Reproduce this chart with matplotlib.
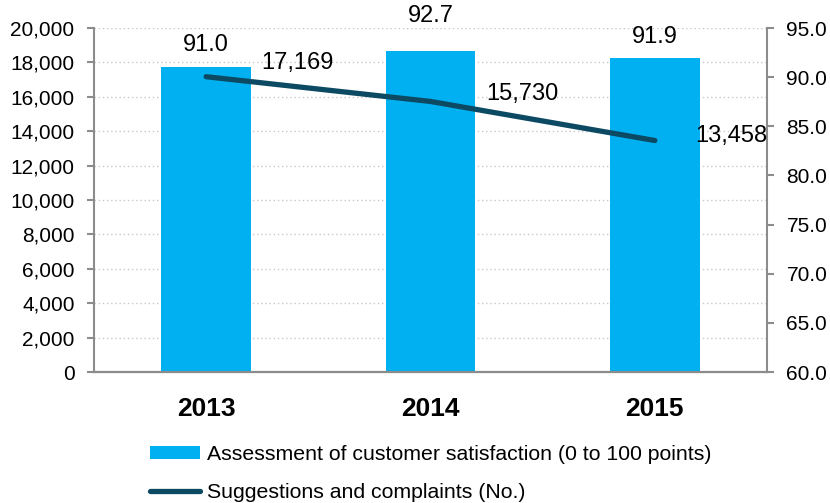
import numpy as np
import matplotlib.pyplot as plt
from matplotlib.ticker import FuncFormatter

plt.rcParams['font.family'] = ['Liberation Sans', 'DejaVu Sans']

# chart data
years = ['2013', '2014', '2015']
satisfaction = [91.0, 92.7, 91.9]          # right axis, bars
complaints = [17169, 15730, 13458]         # left axis, line

bar_color = '#00b0f0'
line_color = '#0c4a63'
spine_color = '#8c8c8c'

# label placement, in pixels from the mark
bar_label_offsets = [(0, 22), (0, 35), (0, 21)]
line_label_offsets = [(91, 14), (92, 7), (76, 5)]

x = np.arange(len(years))

fig = plt.figure(figsize=(8.3, 5.03), dpi=100)
ax = fig.add_axes([94 / 830, 1 - 372 / 503, 673 / 830, 344 / 503])
ax_bar = ax.twinx()
ax_line = ax.twinx()

# left scale: grid + tick labels
ax.set_ylim(0, 20000)
ax.set_yticks(np.arange(0, 20001, 2000))
ax.yaxis.set_major_formatter(FuncFormatter(lambda v, p: f'{v:,.0f}'))
ax.grid(axis='y', linestyle=(0, (1, 2)), color='#c8c8c8', linewidth=1)
ax.set_axisbelow(True)

# bars on the right scale
ax_bar.bar(x, satisfaction, width=0.4, color=bar_color,
           label='Assessment of customer satisfaction (0 to 100 points)')
ax_bar.set_ylim(60, 95)
ax_bar.set_yticks(np.arange(60, 95.1, 5))
ax_bar.yaxis.set_major_formatter(FuncFormatter(lambda v, p: f'{v:.1f}'))
for i, v in enumerate(satisfaction):
    ax_bar.annotate(f'{v:.1f}', (x[i], v), xytext=bar_label_offsets[i],
                    textcoords='offset pixels', ha='center', va='center',
                    fontsize=17)

# line on the left scale
ax_line.plot(x, complaints, color=line_color, linewidth=3.8,
             solid_capstyle='round', label='Suggestions and complaints (No.)')
ax_line.set_ylim(0, 20000)
ax_line.set_yticks([])
for i, v in enumerate(complaints):
    ax_line.annotate(f'{v:,}', (x[i], v), xytext=line_label_offsets[i],
                     textcoords='offset pixels', ha='center', va='center',
                     fontsize=17)

for a in (ax, ax_bar, ax_line):
    a.set_xlim(-0.5, 2.5)
    a.spines['top'].set_visible(False)
    for s in ('left', 'right', 'bottom'):
        a.spines[s].set_color(spine_color)
        a.spines[s].set_linewidth(1.5)
ax_line.spines['left'].set_visible(False)
ax_line.spines['right'].set_visible(False)
ax_bar.spines['left'].set_visible(False)
ax.spines['right'].set_visible(False)

ax.tick_params(axis='y', labelsize=15, length=5, width=1.5, color=spine_color, pad=9)
ax_bar.tick_params(axis='y', labelsize=15, length=5, width=1.5, color=spine_color, pad=9)

# category boundaries as ticks, year names in between
ax.set_xticks([-0.5, 0.5, 1.5, 2.5])
ax.set_xticklabels([])
ax.set_xticks(x, minor=True)
ax.set_xticklabels(years, minor=True, fontsize=19, fontweight='bold')
ax.tick_params(axis='x', which='major', length=7, width=1.5, color=spine_color)
ax.tick_params(axis='x', which='minor', length=0, pad=18)
ax_bar.set_xticks([])
ax_line.set_xticks([])

handles = ax_bar.get_legend_handles_labels()[0] + ax_line.get_legend_handles_labels()[0]
labels = ax_bar.get_legend_handles_labels()[1] + ax_line.get_legend_handles_labels()[1]
fig.legend(handles, labels, loc='upper left', bbox_to_anchor=(150 / 830, 1 - 445 / 503),
           frameon=False, fontsize=15.3, handlelength=2.35, handleheight=0.55,
           handletextpad=0.33, labelspacing=0.9, borderaxespad=0, borderpad=0)

fig.savefig('out.png', dpi=100)
